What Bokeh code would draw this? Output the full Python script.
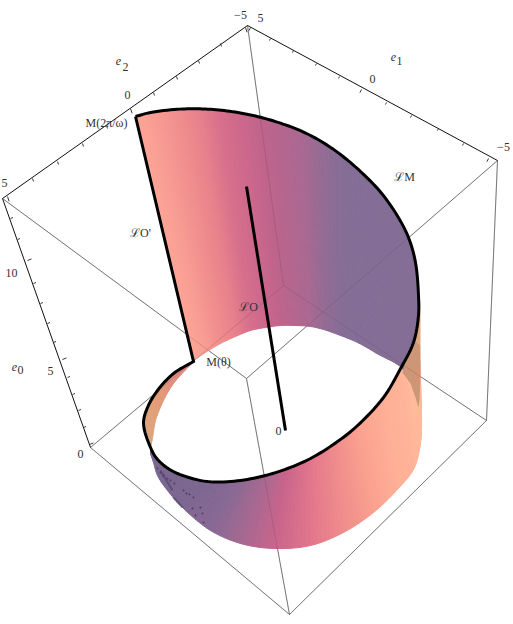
from bokeh.plotting import figure
from bokeh.models import Range1d, ColumnDataSource
from bokeh.core.properties import value
from bokeh.embed import file_html
from bokeh.resources import INLINE

# Bounding box corners
top_T = (247, 25); top_L = (2, 198); top_R = (497, 160); top_N = (246, 378)
bot_A = (283, 285); bot_L = (90, 447); bot_R = (486, 420); bot_N = (289, 614)

# Tick positions along the three framed axes
e2_ticks_x = [245, 220, 198, 176, 153, 130, 106, 82, 57, 32, 7]
e2_ticks_y = [27, 43, 60, 76, 92, 108, 125, 143, 161, 178, 196]
e2_major = [1, 0, 0, 0, 0, 1, 0, 0, 0, 0, 1]
e1_ticks_x = [250, 270, 293, 316, 339, 361, 386, 411, 438, 463, 488]
e1_ticks_y = [27, 38, 50, 63, 76, 89, 102, 115, 128, 143, 158]
e1_major = [1, 0, 0, 0, 0, 1, 0, 0, 0, 0, 1]
e0_ticks_x = [89, 83, 78, 72, 67, 62, 53, 47, 40, 33, 27, 17, 10]
e0_ticks_y = [444, 427, 410, 394, 377, 359, 342, 323, 303, 283, 260, 239, 218]
e0_major = [1, 0, 0, 0, 0, 1, 0, 0, 0, 0, 1, 0, 0]

# Back sheet: upper rim paired with lower edge, and shade at each station
back_rim_x = [135, 150, 176.7, 196.7, 218.3, 240, 260, 280, 300, 320, 340, 360, 380, 396.7, 408, 415, 418, 418, 413, 402]
back_rim_y = [116, 112, 108.8, 108.3, 109.5, 112.5, 116.8, 122.7, 130.2, 140.5, 154, 171, 191.5, 215, 237, 262, 295, 315, 342, 368]
back_base_x = [193, 205, 220, 235, 250, 265, 280, 295, 310, 323, 340, 355, 368, 378, 386, 392, 397, 400, 402, 403]
back_base_y = [360, 352, 343, 336, 330, 327, 325, 325, 326, 329, 335, 341, 348, 354, 358, 361, 364, 366, 368, 369]
back_shade = ["#fca596", "#fa9e94", "#f08e8e", "#e8828c", "#d7708c", "#cd688c", "#c0648c", "#b4668e",
              "#aa6992", "#966b94", "#866e96", "#846e96", "#846e96", "#846e96", "#846e96", "#846e96",
              "#846e96", "#846e96", "#846e96", "#846e96"]

# Front sheet: black rim paired with lower edge
front_rim_x = [150, 156.7, 170, 190, 210, 237, 263, 287, 310, 335, 356, 383, 399, 405, 413, 418]
front_rim_y = [447, 458.5, 469.5, 477.5, 481.3, 480.3, 475.5, 468, 458, 442.5, 426, 397, 370, 360, 342, 315]
front_base_x = [150, 153, 157, 167, 183, 210, 240, 273, 310, 343, 373, 396, 413, 419, 421, 420]
front_base_y = [453, 462, 475, 490, 508, 530, 543, 548, 545, 532, 512, 490, 469, 449, 429, 380]
front_shade = ["#7a6790", "#7a6790", "#7a6790", "#7a6790", "#7d6791", "#876994", "#a56991", "#c8648c",
               "#e1768c", "#f08c8c", "#faa08f", "#ffaf96", "#ffb498", "#ffb99b", "#ffb99b", "#ffb99b"]

# Inner orange strip on the left
strip_rim_x = [148, 143, 147, 157, 173, 193]
strip_rim_y = [443, 423, 407, 390, 373, 361]
strip_in_x = [150, 152, 155, 163, 173, 192]
strip_in_y = [447, 437, 420, 400, 383, 362]
strip_shade = ["#d8a886", "#dba67f", "#e0a27a", "#e29a78", "#e08e80", "#e8857f"]

# Tan wedge on the right
wedge_top_x = [418, 420, 420, 414]
wedge_top_y = [312, 312, 345, 340]
wedge_x = [414, 420, 420, 419, 418, 415, 410, 402, 405]
wedge_y = [340, 345, 377, 400, 407, 397, 383, 372, 360]
wedge_colors = ["#e0a880", "#cd9676"]

# Spine line
spine_x = [246, 285]
spine_y = [186, 430]

# Specks and streaks in the purple part of the lower band
speck_x = [157, 160, 163, 167, 170, 174, 183, 186, 189, 193, 192, 200, 202, 195, 203]
speck_y = [468, 472, 475, 478, 480, 483, 490, 493, 494, 497, 508, 507, 513, 515, 522]
streak_x = [[173, 182], [160, 172]]
streak_y = [[497, 507], [470, 490]]
streak_w = [2.2, 0.9]

# Labels
label_text = ["\u22125", "5", "e", "2", "e", "1", "0", "0", "\u22125", "5", "10", "5", "0", "e", "0",
              "M(2\u03c0/\u03c9)", "\u2112O'", "\u2112O", "\u2112M", "M(\u03b8)", "0"]
label_x = [240, 260, 118, 125, 393, 399, 127, 372, 503, 4, 11, 50, 80, 14, 20, 106, 140, 248, 404, 218, 278]
label_y = [14, 17, 60, 66, 56, 60, 94, 78, 146, 182, 272, 370, 453, 366, 369, 122, 232, 306, 176, 361, 430]
label_style = ["normal", "normal", "italic", "normal", "italic", "normal", "normal", "normal", "normal", "normal",
               "normal", "normal", "normal", "italic", "normal", "normal", "normal", "normal", "normal", "normal", "normal"]


def rgb(h):
    return tuple(int(h[i:i + 2], 16) for i in (1, 3, 5))


def smooth(xs, ys, parts=8):
    """Draw a curve through the read knots (centripetal Catmull-Rom), for rendering only."""
    P = list(zip(xs, ys))
    P = [(2 * P[0][0] - P[1][0], 2 * P[0][1] - P[1][1])] + P + [(2 * P[-1][0] - P[-2][0], 2 * P[-1][1] - P[-2][1])]
    ox, oy = [], []

    def lerp(a, b, ta, tb, t):
        u = (t - ta) / (tb - ta) if tb != ta else 0
        return (a[0] + (b[0] - a[0]) * u, a[1] + (b[1] - a[1]) * u)

    for i in range(1, len(P) - 2):
        p0, p1, p2, p3 = P[i - 1], P[i], P[i + 1], P[i + 2]
        d = lambda a, b: max(((a[0] - b[0]) ** 2 + (a[1] - b[1]) ** 2) ** 0.25, 1e-6)
        t0 = 0.0
        t1 = t0 + d(p0, p1)
        t2 = t1 + d(p1, p2)
        t3 = t2 + d(p2, p3)
        for k in range(parts):
            t = t1 + (t2 - t1) * k / parts
            a1, a2, a3 = lerp(p0, p1, t0, t1, t), lerp(p1, p2, t1, t2, t), lerp(p2, p3, t2, t3, t)
            b1, b2 = lerp(a1, a2, t0, t2, t), lerp(a2, a3, t1, t3, t)
            c = lerp(b1, b2, t1, t2, t)
            ox.append(c[0])
            oy.append(c[1])
    ox.append(float(xs[-1]))
    oy.append(float(ys[-1]))
    return ox, oy


def blend(shades, parts=8):
    out = []
    for i in range(len(shades) - 1):
        c0, c1 = rgb(shades[i]), rgb(shades[i + 1])
        for k in range(parts):
            t = (k + 0.5) / parts
            out.append("#%02x%02x%02x" % tuple(int(round(c0[j] + (c1[j] - c0[j]) * t)) for j in range(3)))
    return out


def band(ax, ay, bx, by, shades, parts=8):
    ax, ay = smooth(ax, ay, parts)
    bx, by = smooth(bx, by, parts)
    cols = blend(shades, parts)
    xs = [[ax[i], ax[i + 1], bx[i + 1], bx[i]] for i in range(len(ax) - 1)]
    ys = [[ay[i], ay[i + 1], by[i + 1], by[i]] for i in range(len(ay) - 1)]
    return dict(xs=xs, ys=ys, c=cols)


p = figure(width=513, height=624, x_range=Range1d(0, 513), y_range=Range1d(624, 0),
           x_axis_type=None, y_axis_type=None, toolbar_location=None,
           output_backend="svg", min_border=0, outline_line_color=None,
           background_fill_color="white")
p.grid.visible = False

thin_edges = [(top_T, bot_A), (top_L, top_N), (top_R, top_N), (top_N, bot_N), (top_R, bot_R),
              (bot_A, bot_L), (bot_A, bot_R), (bot_L, bot_N), (bot_R, bot_N)]
edge_x = [[a[0], b[0]] for a, b in thin_edges]
edge_y = [[a[1], b[1]] for a, b in thin_edges]
p.multi_line(edge_x, edge_y, line_color="#666666", line_width=0.8)

for src in (band(front_rim_x, front_rim_y, front_base_x, front_base_y, front_shade),
            band(strip_rim_x, strip_rim_y, strip_in_x, strip_in_y, strip_shade),
            band(back_rim_x, back_rim_y, back_base_x, back_base_y, back_shade)):
    p.patches("xs", "ys", source=ColumnDataSource(src), fill_color="c", line_color="c", line_width=1)

p.patch(wedge_top_x, wedge_top_y, fill_color=wedge_colors[0], line_color=None)
p.patch(wedge_x, wedge_y, fill_color=wedge_colors[1], line_color=None)
p.scatter(speck_x, speck_y, size=1.4, color="#4e3c66", alpha=0.6)
p.multi_line(streak_x, streak_y, line_color="#4e3c66", line_width=streak_w[0], line_alpha=0.55)

# Faint box lines that show through the sheets
p.multi_line(edge_x, edge_y, line_color="#444444", line_width=0.7, line_alpha=0.28)

# Framed axes
axis_edges = [(top_T, top_L), (top_T, top_R), (top_L, bot_L)]
p.multi_line([[a[0], b[0]] for a, b in axis_edges], [[a[1], b[1]] for a, b in axis_edges],
             line_color="#111111", line_width=1)
tick_sets = [(e2_ticks_x, e2_ticks_y, e2_major, (1, 3)),
             (e1_ticks_x, e1_ticks_y, e1_major, (-1, 2)),
             (e0_ticks_x, e0_ticks_y, e0_major, (2.5, -1))]
for tx, ty, tm, d in tick_sets:
    p.multi_line([[x, x + d[0] * (1.6 if m else 1)] for x, m in zip(tx, tm)],
                 [[y, y + d[1] * (1.6 if m else 1)] for y, m in zip(ty, tm)],
                 line_color="#222222", line_width=0.9)

# Black thread around the surface
knot_x = back_rim_x[:-1] + front_rim_x[::-1][3:] + strip_rim_x[1:]
knot_y = back_rim_y[:-1] + front_rim_y[::-1][3:] + strip_rim_y[1:]
rim_x, rim_y = smooth(knot_x, knot_y)
p.line(rim_x + [back_rim_x[0]], rim_y + [back_rim_y[0]], line_color="black", line_width=3, line_join="miter")
p.line(spine_x, spine_y, line_color="black", line_width=3)

p.text(label_x, label_y, text=label_text, text_font=value("Liberation Serif"), text_font_size="12px",
       text_font_style=label_style, text_align="center", text_baseline="middle", text_color="#333333")

open("out.html", "w").write(file_html(p, INLINE))
